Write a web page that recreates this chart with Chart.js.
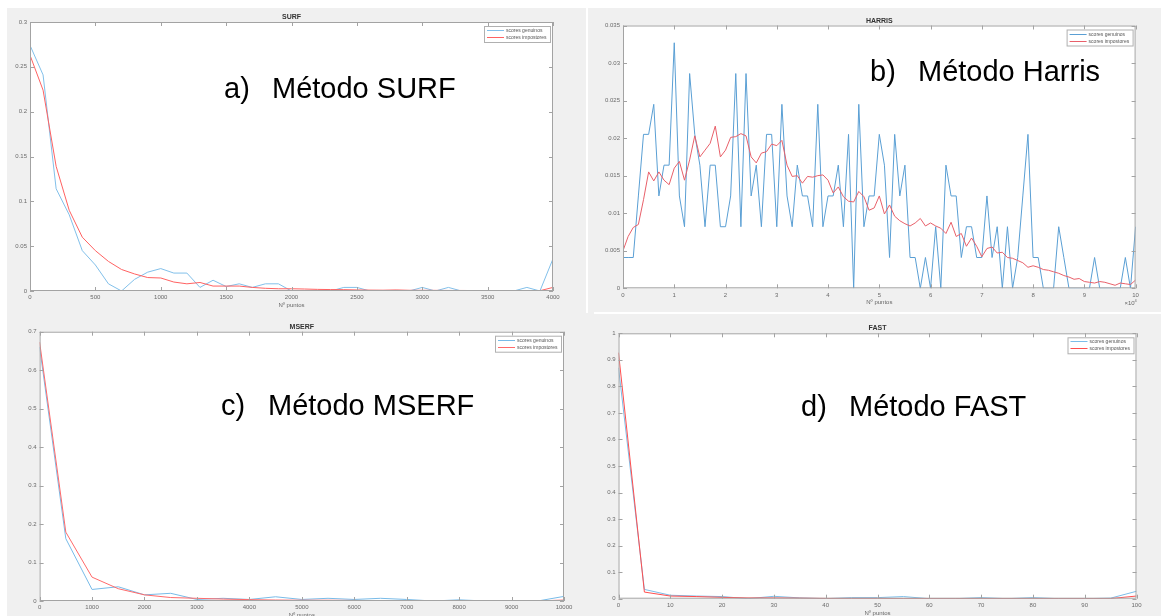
<!DOCTYPE html>
<html>
<head>
<meta charset="utf-8">
<script src="https://cdn.jsdelivr.net/npm/chart.js@4.4.1/dist/chart.umd.min.js"></script>
<style>
  body { margin: 0; width: 1161px; height: 616px; background: #fff; overflow: hidden; position: relative; font-family: "Liberation Sans", Arial, sans-serif; }
  .fig { position: absolute; left: 7px; top: 8px; width: 1154px; height: 608px; background: #f0f0f0; }
  .vline { position: absolute; left: 586px; top: 8px; width: 2px; height: 305px; background: #fff; }
  .hline { position: absolute; left: 594px; top: 312px; width: 567px; height: 2px; background: #fff; }
  canvas { position: absolute; }
  .big { position: absolute; font-size: 29px; line-height: 29px; color: #000; white-space: nowrap; }
</style>
</head>
<body>
<div class="fig"></div>
<div class="vline"></div>
<div class="hline"></div>

<canvas id="surf" width="580" height="302" style="left:7px;top:8px"></canvas>
<canvas id="harris" width="573" height="304" style="left:588px;top:8px"></canvas>
<canvas id="mserf" width="580" height="306" style="left:7px;top:310px"></canvas>
<canvas id="fast" width="573" height="301" style="left:588px;top:315px"></canvas>

<span class="big" style="left:224px;top:74px">a)</span>
<span class="big" style="left:272px;top:74px">Método SURF</span>
<span class="big" style="left:870px;top:57px">b)</span>
<span class="big" style="left:918px;top:57px">Método Harris</span>
<span class="big" style="left:221px;top:391px">c)</span>
<span class="big" style="left:268px;top:391px">Método MSERF</span>
<span class="big" style="left:801px;top:392px">d)</span>
<span class="big" style="left:849px;top:392px">Método FAST</span>

<script>
// a) SURF, one sample every 100 points
const surfStep = 100;
const surfGenuinos = [0.274, 0.241, 0.114, 0.085, 0.045, 0.029, 0.008, 0, 0.013, 0.021,
  0.025, 0.020, 0.020, 0.004, 0.012, 0.005, 0.008, 0.004, 0.008, 0.008,
  0, 0, 0, 0, 0.004, 0.004, 0, 0, 0, 0,
  0.004, 0, 0.004, 0, 0, 0, 0, 0, 0.004, 0, 0.036];
const surfImpostores = [0.263, 0.224, 0.139, 0.090, 0.060, 0.045, 0.033, 0.024, 0.019, 0.015,
  0.0145, 0.010, 0.008, 0.0095, 0.0055, 0.0055, 0.0055, 0.004, 0.003, 0.0025,
  0.0025, 0.0022, 0.0018, 0.0016, 0.0015, 0.0012, 0.001, 0.0009, 0.0012, 0.0008,
  0.0008, 0.0007, 0.0006, 0.0006, 0.0005, 0.0005, 0.0004, 0.0004, 0.0005, 0.0003, 0.004];
const surfXTicks = [0, 500, 1000, 1500, 2000, 2500, 3000, 3500, 4000];
const surfYTicks = [0, 0.05, 0.1, 0.15, 0.2, 0.25, 0.3];

// b) Harris, x in units of 10^4, one sample every 0.1
const harrisStep = 0.1;
const harrisGenuinos = [0.0041, 0.0041, 0.0041, 0.0123, 0.0205, 0.0205, 0.0245, 0.0123, 0.0164, 0.0164,
  0.0327, 0.0123, 0.0082, 0.0286, 0.0205, 0.0164, 0.0082, 0.0164, 0.0164, 0.0082,
  0.0082, 0.0123, 0.0286, 0.0082, 0.0286, 0.0123, 0.0164, 0.0082, 0.0205, 0.0205,
  0.0082, 0.0245, 0.0123, 0.0082, 0.0164, 0.0123, 0.0123, 0.0082, 0.0245, 0.0082,
  0.0123, 0.0123, 0.0164, 0.0082, 0.0205, 0, 0.0245, 0.0082, 0.0123, 0.0123,
  0.0205, 0.0164, 0.0041, 0.0205, 0.0123, 0.0164, 0.0041, 0.0041, 0, 0.0041,
  0, 0.0082, 0, 0.0164, 0.0123, 0.0123, 0.0041, 0.0082, 0.0082, 0.0041,
  0.0041, 0.0123, 0.0041, 0.0082, 0, 0.0082, 0, 0.0041, 0.0123, 0.0205,
  0.0041, 0.0041, 0, 0, 0, 0.0082, 0.0041, 0, 0, 0,
  0, 0, 0.0041, 0, 0, 0, 0, 0, 0.0041, 0, 0.0082];
const harrisImpostores = [0.0050, 0.0069, 0.0081, 0.0085, 0.0118, 0.0155, 0.0143, 0.0155, 0.0144, 0.0138,
  0.0160, 0.0169, 0.0144, 0.0171, 0.0203, 0.0175, 0.0184, 0.0193, 0.0216, 0.0175,
  0.0184, 0.0201, 0.0202, 0.0206, 0.0203, 0.0175, 0.0167, 0.0180, 0.0182, 0.0192,
  0.0190, 0.0197, 0.0164, 0.0149, 0.0150, 0.0140, 0.0149, 0.0148, 0.0150, 0.0151,
  0.0144, 0.0127, 0.0135, 0.0122, 0.0116, 0.0115, 0.0129, 0.0122, 0.0104, 0.0107,
  0.0123, 0.0099, 0.0111, 0.0096, 0.0090, 0.0086, 0.0083, 0.0087, 0.0093, 0.0083,
  0.0087, 0.0083, 0.0080, 0.0073, 0.0088, 0.0069, 0.0073, 0.0056, 0.0067, 0.0056,
  0.0042, 0.0053, 0.0055, 0.0047, 0.0048, 0.0041, 0.0040, 0.0037, 0.0034, 0.0028,
  0.0030, 0.0028, 0.0025, 0.0024, 0.0022, 0.0020, 0.0017, 0.0015, 0.0012, 0.0013,
  0.0009, 0.0008, 0.0007, 0.0009, 0.0008, 0.0006, 0.0004, 0.0007, 0.0006, 0.0005, 0.0011];
const harrisXTicks = [0, 1, 2, 3, 4, 5, 6, 7, 8, 9, 10];
const harrisYTicks = [0, 0.005, 0.01, 0.015, 0.02, 0.025, 0.03, 0.035];

// c) MSERF, one sample every 500 points
const mserfStep = 500;
const mserfGenuinos = [0.66, 0.162, 0.030, 0.037, 0.016, 0.020, 0.004, 0.007, 0.004, 0.011,
  0.004, 0.007, 0.004, 0.007, 0.004, 0, 0.003, 0, 0, 0, 0.012];
const mserfImpostores = [0.673, 0.179, 0.062, 0.032, 0.016, 0.009, 0.007, 0.005, 0.0035, 0.0025,
  0.002, 0.002, 0.0015, 0.001, 0.001, 0.0007, 0.0005, 0.0004, 0.0003, 0.0002, 0.0025];
const mserfXTicks = [0, 1000, 2000, 3000, 4000, 5000, 6000, 7000, 8000, 9000, 10000];
const mserfYTicks = [0, 0.1, 0.2, 0.3, 0.4, 0.5, 0.6, 0.7];

// d) FAST, one sample every 5 points
const fastStep = 5;
const fastGenuinos = [0.87, 0.035, 0.013, 0.010, 0.008, 0, 0.009, 0.003, 0, 0.004,
  0.004, 0.008, 0, 0, 0.004, 0, 0.004, 0, 0, 0.002, 0.028];
const fastImpostores = [0.927, 0.025, 0.010, 0.008, 0.005, 0.003, 0.003, 0.002, 0.001, 0.001,
  0.001, 0.0005, 0.0005, 0.0005, 0.0005, 0.0005, 0.0005, 0.0005, 0.0005, 0.0005, 0.010];
const fastXTicks = [0, 10, 20, 30, 40, 50, 60, 70, 80, 90, 100];
const fastYTicks = [0, 0.1, 0.2, 0.3, 0.4, 0.5, 0.6, 0.7, 0.8, 0.9, 1];

const legendLabels = ["scores genuinos", "scores impostores"];
const FONT = "'Liberation Sans', Arial, sans-serif";
const AXIS_COLOR = "#a3a3a3";

function toPoints(step, values) {
    return values.map((v, i) => ({ x: i * step, y: v }));
}

// MATLAB-like box, inward ticks on all four sides, legend, title and axis label
const matlabAxes = {
    id: "matlabAxes",
    beforeDraw(chart) {
        const a = chart.chartArea;
        const ctx = chart.ctx;
        ctx.save();
        ctx.fillStyle = "#fff";
        ctx.fillRect(a.left, a.top, a.right - a.left, a.bottom - a.top);
        ctx.restore();
    },
    afterDraw(chart, args, opts) {
        const a = chart.chartArea;
        const ctx = chart.ctx;
        const xs = chart.scales.x;
        const ys = chart.scales.y;
        const tl = 4;
        ctx.save();
        ctx.strokeStyle = AXIS_COLOR;
        ctx.lineWidth = 1;
        ctx.strokeRect(a.left + 0.5, a.top + 0.5, a.right - a.left - 1, a.bottom - a.top - 1);
        ctx.beginPath();
        xs.ticks.forEach(t => {
            const px = Math.round(xs.getPixelForValue(t.value)) + 0.5;
            ctx.moveTo(px, a.bottom); ctx.lineTo(px, a.bottom - tl);
            ctx.moveTo(px, a.top); ctx.lineTo(px, a.top + tl);
        });
        ys.ticks.forEach(t => {
            const py = Math.round(ys.getPixelForValue(t.value)) + 0.5;
            ctx.moveTo(a.left, py); ctx.lineTo(a.left + tl, py);
            ctx.moveTo(a.right, py); ctx.lineTo(a.right - tl, py);
        });
        ctx.stroke();

        // title
        ctx.fillStyle = "#333";
        ctx.font = "bold 7px " + FONT;
        ctx.textAlign = "center";
        ctx.textBaseline = "alphabetic";
        ctx.fillText(opts.title, (a.left + a.right) / 2, a.top - 3);

        // x label
        ctx.fillStyle = "#666";
        ctx.font = "6px " + FONT;
        ctx.fillText("Nº puntos", (a.left + a.right) / 2, a.bottom + 16);

        if (opts.multiplier) {
            ctx.textAlign = "right";
            ctx.fillText("×10", a.right - 1, a.bottom + 17);
            ctx.font = "4px " + FONT;
            ctx.textAlign = "left";
            ctx.fillText("4", a.right - 1, a.bottom + 14);
        }

        // legend
        const w = 66, h = 16;
        const lx = a.right - w - 3, ly = a.top + 4;
        ctx.fillStyle = "#fff";
        ctx.fillRect(lx, ly, w, h);
        ctx.strokeStyle = "#b0b0b0";
        ctx.strokeRect(lx + 0.5, ly + 0.5, w, h);
        ctx.font = "5px " + FONT;
        ctx.textAlign = "left";
        ctx.textBaseline = "middle";
        opts.colors.forEach((c, i) => {
            const yy = Math.round(ly + 4 + i * 7) + 0.5;
            ctx.strokeStyle = c;
            ctx.beginPath();
            ctx.moveTo(lx + 3, yy);
            ctx.lineTo(lx + 20, yy);
            ctx.stroke();
            ctx.fillStyle = "#555";
            ctx.fillText(legendLabels[i], lx + 22, yy);
        });
        ctx.restore();
    }
};

function makePanel(id, cfg) {
    const ctx = document.getElementById(id).getContext("2d");
    new Chart(ctx, {
        type: "line",
        data: {
            datasets: [{
                label: legendLabels[0],
                data: toPoints(cfg.step, cfg.genuinos),
                borderColor: cfg.blue,
                borderWidth: 1,
                pointRadius: 0,
                tension: 0,
                order: 1
            }, {
                label: legendLabels[1],
                data: toPoints(cfg.step, cfg.impostores),
                borderColor: cfg.red,
                borderWidth: 1,
                pointRadius: 0,
                tension: 0,
                order: 0
            }]
        },
        options: {
            responsive: false,
            animation: false,
            devicePixelRatio: 1,
            layout: { padding: { top: cfg.top, right: cfg.right, bottom: 0, left: 0 } },
            plugins: {
                legend: { display: false },
                tooltip: { enabled: false },
                matlabAxes: { title: cfg.title, multiplier: cfg.multiplier, colors: [cfg.blue, cfg.red] }
            },
            scales: {
                x: {
                    type: "linear",
                    min: cfg.xTicks[0],
                    max: cfg.xTicks[cfg.xTicks.length - 1],
                    grid: { display: false, drawTicks: false },
                    border: { display: false },
                    afterBuildTicks: s => { s.ticks = cfg.xTicks.map(v => ({ value: v })); },
                    afterFit: s => { s.height = cfg.xH; },
                    ticks: {
                        callback: v => String(v),
                        autoSkip: false,
                        maxRotation: 0,
                        padding: 3,
                        color: "#6a6a6a",
                        font: { family: FONT, size: 6 }
                    }
                },
                y: {
                    type: "linear",
                    min: cfg.yTicks[0],
                    max: cfg.yTicks[cfg.yTicks.length - 1],
                    grid: { display: false, drawTicks: false },
                    border: { display: false },
                    afterBuildTicks: s => { s.ticks = cfg.yTicks.map(v => ({ value: v })); },
                    afterFit: s => { s.width = cfg.yW; },
                    ticks: {
                        callback: v => String(v),
                        autoSkip: false,
                        padding: 3,
                        color: "#6a6a6a",
                        font: { family: FONT, size: 6 }
                    }
                }
            }
        },
        plugins: [matlabAxes]
    });
}

makePanel("surf", {
    title: "SURF", step: surfStep, genuinos: surfGenuinos, impostores: surfImpostores,
    xTicks: surfXTicks, yTicks: surfYTicks, blue: "#82c0ea", red: "#ff6262",
    top: 14, right: 34, yW: 23, xH: 19
});
makePanel("harris", {
    title: "HARRIS", step: harrisStep, genuinos: harrisGenuinos, impostores: harrisImpostores,
    xTicks: harrisXTicks, yTicks: harrisYTicks, blue: "#5a9fd4", red: "#e8606a",
    top: 17.5, right: 25.4, yW: 35, xH: 23.7, multiplier: true
});
makePanel("mserf", {
    title: "MSERF", step: mserfStep, genuinos: mserfGenuinos, impostores: mserfImpostores,
    xTicks: mserfXTicks, yTicks: mserfYTicks, blue: "#78bbe8", red: "#ff6a6a",
    top: 21.7, right: 23, yW: 32.6, xH: 15
});
makePanel("fast", {
    title: "FAST", step: fastStep, genuinos: fastGenuinos, impostores: fastImpostores,
    xTicks: fastXTicks, yTicks: fastYTicks, blue: "#7cbde8", red: "#ff4e4e",
    top: 18.3, right: 24.5, yW: 30.5, xH: 17.3
});
</script>
</body>
</html>
